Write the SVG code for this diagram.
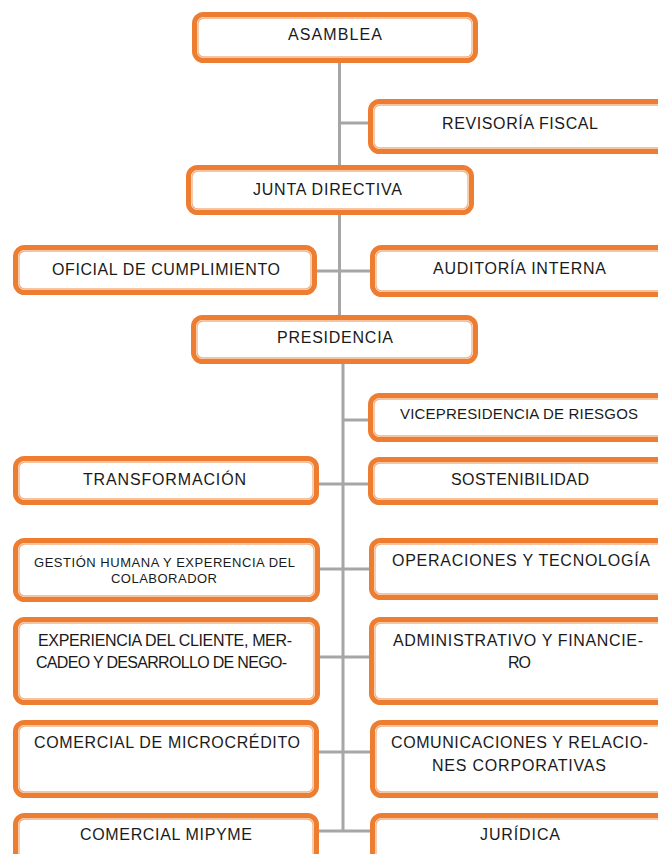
<svg xmlns="http://www.w3.org/2000/svg" width="658" height="854" viewBox="0 0 658 854">
<style>
.o{fill:#fff;stroke:#ED7D31;stroke-width:5}
.i{fill:none;stroke:#F4B183;stroke-width:1.3}
.t{font-family:"Liberation Sans",Arial,sans-serif;font-size:16px;fill:#1a1a1a}
.s{font-size:13px}
.v{font-size:15px}
.c{stroke:#A6A6A6;stroke-width:3;fill:none}
</style>
<rect width="658" height="854" fill="#fff"/>
<g id="connectors">
<path class="c" d="M339.5 63V315M343 364V832"/>
<path class="c" d="M339.5 123H368M317 271H370M343 420H368M319 484H368M320 569H369M320 657H369M319 752H370M319 831H370"/>
</g>
<g id="asamblea"><rect class="o" x="194.5" y="14.5" width="281" height="46" rx="9"/><rect class="i" x="198" y="18" width="274" height="39" rx="6"/><text class="t" x="288" y="40" textLength="94">ASAMBLEA</text></g>
<g id="revisoria"><rect class="o" x="370.5" y="101.5" width="320" height="50" rx="9"/><rect class="i" x="374" y="105" width="313" height="43" rx="6"/><text class="t" x="442" y="129" textLength="156">REVISORÍA FISCAL</text></g>
<g id="junta"><rect class="o" x="188.5" y="167.5" width="283" height="45" rx="9"/><rect class="i" x="192" y="171" width="276" height="38" rx="6"/><text class="t" x="253" y="195" textLength="149">JUNTA DIRECTIVA</text></g>
<g id="oficial"><rect class="o" x="15.5" y="247.5" width="299" height="45" rx="9"/><rect class="i" x="19" y="251" width="292" height="38" rx="6"/><text class="t" x="52" y="275" textLength="228">OFICIAL DE CUMPLIMIENTO</text></g>
<g id="auditoria"><rect class="o" x="372.5" y="247.5" width="318" height="47" rx="9"/><rect class="i" x="376" y="251" width="311" height="40" rx="6"/><text class="t" x="433" y="274" textLength="173">AUDITORÍA INTERNA</text></g>
<g id="presidencia"><rect class="o" x="193.5" y="317.5" width="282" height="44" rx="9"/><rect class="i" x="197" y="321" width="275" height="37" rx="6"/><text class="t" x="277" y="343" textLength="116">PRESIDENCIA</text></g>
<g id="vicepresidencia"><rect class="o" x="370.5" y="395.5" width="320" height="44" rx="9"/><rect class="i" x="374" y="399" width="313" height="37" rx="6"/><text class="t v" x="400" y="419" textLength="238">VICEPRESIDENCIA DE RIESGOS</text></g>
<g id="transformacion"><rect class="o" x="15.5" y="458.5" width="301" height="44" rx="9"/><rect class="i" x="19" y="462" width="294" height="37" rx="6"/><text class="t" x="83" y="485" textLength="163">TRANSFORMACIÓN</text></g>
<g id="sostenibilidad"><rect class="o" x="370.5" y="459.5" width="320" height="43" rx="9"/><rect class="i" x="374" y="463" width="313" height="36" rx="6"/><text class="t" x="451" y="485" textLength="138">SOSTENIBILIDAD</text></g>
<g id="gestion"><rect class="o" x="15.5" y="540.5" width="302" height="59" rx="9"/><rect class="i" x="19" y="544" width="295" height="52" rx="6"/><text class="t s" x="34" y="567" textLength="261">GESTIÓN HUMANA Y EXPERENCIA DEL</text><text class="t s" x="111" y="583" textLength="106">COLABORADOR</text></g>
<g id="operaciones"><rect class="o" x="371.5" y="540.5" width="319" height="57" rx="9"/><rect class="i" x="375" y="544" width="312" height="50" rx="6"/><text class="t" x="392" y="566" textLength="258">OPERACIONES Y TECNOLOGÍA</text></g>
<g id="experiencia"><rect class="o" x="15.5" y="619.5" width="302" height="83" rx="9"/><rect class="i" x="19" y="623" width="295" height="76" rx="6"/><text class="t" x="38" y="646" textLength="254">EXPERIENCIA DEL CLIENTE, MER-</text><text class="t" x="36" y="668" textLength="251">CADEO Y DESARROLLO DE NEGO-</text></g>
<g id="administrativo"><rect class="o" x="371.5" y="619.5" width="319" height="83" rx="9"/><rect class="i" x="375" y="623" width="312" height="76" rx="6"/><text class="t" x="393" y="646" textLength="250">ADMINISTRATIVO Y FINANCIE-</text><text class="t" x="508" y="668" textLength="23">RO</text></g>
<g id="microcredito"><rect class="o" x="15.5" y="722.5" width="301" height="73" rx="9"/><rect class="i" x="19" y="726" width="294" height="66" rx="6"/><text class="t" x="34" y="748" textLength="266">COMERCIAL DE MICROCRÉDITO</text></g>
<g id="comunicaciones"><rect class="o" x="372.5" y="722.5" width="318" height="73" rx="9"/><rect class="i" x="376" y="726" width="311" height="66" rx="6"/><text class="t" x="391" y="748" textLength="257">COMUNICACIONES Y RELACIO-</text><text class="t" x="432" y="771" textLength="174">NES CORPORATIVAS</text></g>
<g id="mipyme"><rect class="o" x="15.5" y="815.5" width="301" height="70" rx="9"/><rect class="i" x="19" y="819" width="294" height="63" rx="6"/><text class="t" x="80" y="840" textLength="172">COMERCIAL MIPYME</text></g>
<g id="juridica"><rect class="o" x="372.5" y="815.5" width="318" height="70" rx="9"/><rect class="i" x="376" y="819" width="311" height="63" rx="6"/><text class="t" x="480" y="840" textLength="80">JURÍDICA</text></g>
</svg>
